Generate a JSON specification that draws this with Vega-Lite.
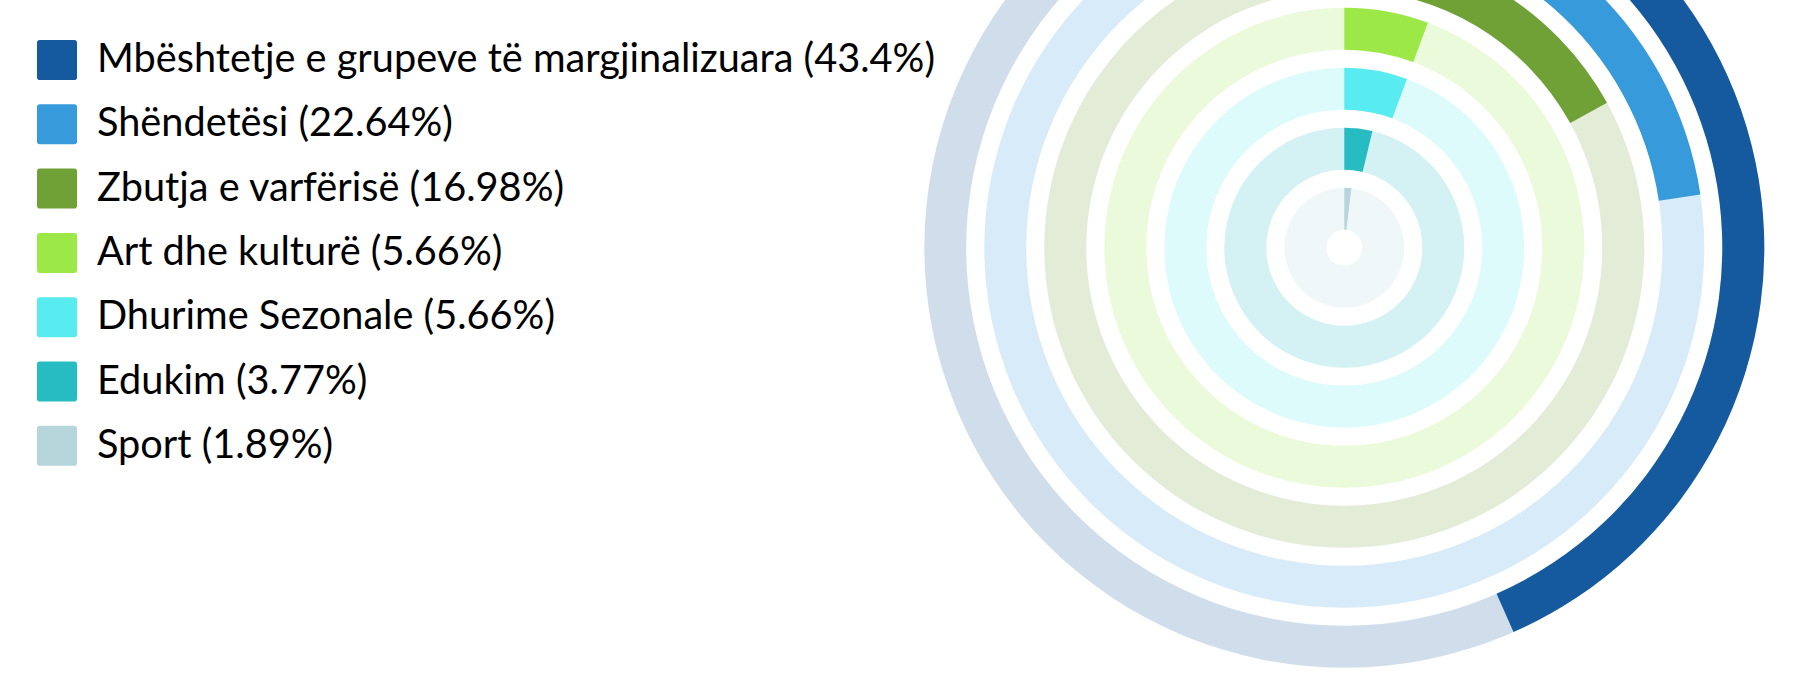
{
  "$schema": "https://vega.github.io/schema/vega-lite/v6.json",
  "autosize": "none",
  "padding": {"left": 880.6, "top": 0, "right": 0, "bottom": 178.6},
  "width": 927.4,
  "height": 495.4,
  "background": "white",
  "config": {"view": {"stroke": null}, "font": "Lato"},
  "data": {
    "values": [
      {"label": "Mbështetje e grupeve të margjinalizuara (43.4%)", "value": 43.4},
      {"label": "Shëndetësi (22.64%)", "value": 22.64},
      {"label": "Zbutja e varfërisë (16.98%)", "value": 16.98},
      {"label": "Art dhe kulturë (5.66%)", "value": 5.66},
      {"label": "Dhurime Sezonale (5.66%)", "value": 5.66},
      {"label": "Edukim (3.77%)", "value": 3.77},
      {"label": "Sport (1.89%)", "value": 1.89}
    ]
  },
  "encoding": {
    "radius": {
      "field": "label",
      "type": "nominal",
      "sort": ["Sport (1.89%)", "Edukim (3.77%)", "Dhurime Sezonale (5.66%)", "Art dhe kulturë (5.66%)", "Zbutja e varfërisë (16.98%)", "Shëndetësi (22.64%)", "Mbështetje e grupeve të margjinalizuara (43.4%)"],
      "scale": {"type": "band", "range": [0, 420], "paddingInner": 0.3, "paddingOuter": 0.15, "align": 1}
    },
    "color": {
      "field": "label",
      "type": "nominal",
      "scale": {
        "domain": ["Mbështetje e grupeve të margjinalizuara (43.4%)", "Shëndetësi (22.64%)", "Zbutja e varfërisë (16.98%)", "Art dhe kulturë (5.66%)", "Dhurime Sezonale (5.66%)", "Edukim (3.77%)", "Sport (1.89%)"],
        "range": ["#155A9F", "#379BDB", "#6FA136", "#9BE846", "#58ECF0", "#27BCC2", "#B6D6DC"]
      },
      "legend": {
        "title": null,
        "orient": "none",
        "legendX": -843.6,
        "legendY": 40,
        "padding": 0,
        "symbolType": "M -0.86 -1 L 0.86 -1 Q 1 -1 1 -0.86 L 1 0.86 Q 1 1 0.86 1 L -0.86 1 Q -1 1 -1 0.86 L -1 -0.86 Q -1 -1 -0.86 -1 Z",
        "symbolSize": 1600,
        "symbolOpacity": 1,
        "symbolStrokeWidth": 0,
        "labelFont": "Lato",
        "labelFontSize": 39.7,
        "labelColor": "#000000",
        "labelOffset": 20,
        "labelLimit": 2000,
        "rowPadding": 24.3
      }
    }
  },
  "layer": [
    {
      "mark": {"type": "arc", "theta": 0, "theta2": 6.283185307179586, "opacity": 0.2}
    },
    {
      "mark": {"type": "arc"},
      "encoding": {
        "theta": {"field": "value", "type": "quantitative", "scale": {"domain": [0, 100], "range": [0, 6.283185307179586]}},
        "theta2": {"datum": 0}
      }
    }
  ]
}
